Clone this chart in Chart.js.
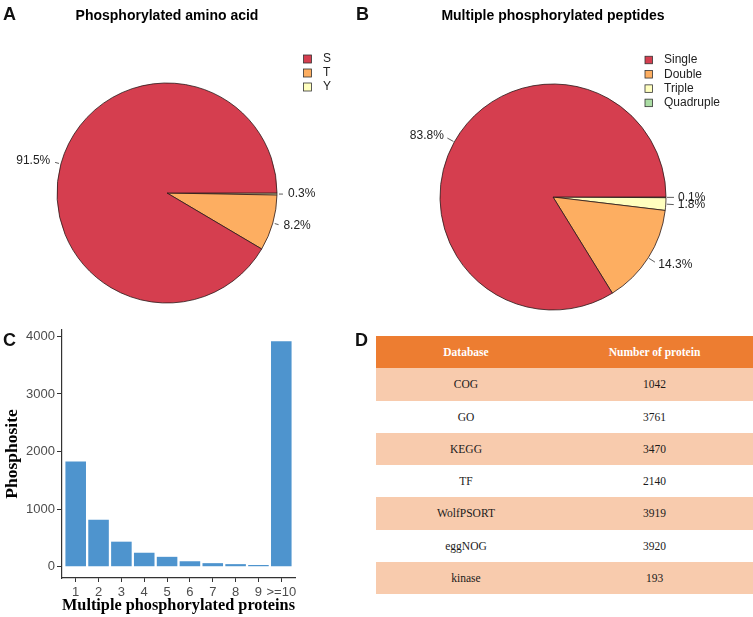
<!DOCTYPE html>
<html><head><meta charset="utf-8">
<script src="https://cdn.jsdelivr.net/npm/chart.js@4.4.1/dist/chart.umd.min.js"></script>
<style>
html,body{margin:0;padding:0;background:#fff;}
#wrap{position:relative;width:753px;height:617px;overflow:hidden;background:#fff;}
.box{position:absolute;}
.tag{position:absolute;font:bold 18px "Liberation Sans",Arial,sans-serif;line-height:18px;color:#111;}
#tbl{position:absolute;left:376px;top:336px;width:377px;border-collapse:collapse;table-layout:fixed;font-family:"Liberation Serif","Times New Roman",serif;font-size:11.5px;color:#1a1a1a;}
#tbl td,#tbl th{height:32.25px;padding:0;text-align:center;vertical-align:middle;}
#tbl td{font-weight:normal;}
#tbl th{font-weight:bold;}
#tbl tr.hd{background:#ED7D31;color:#fff;}
#tbl tr.odd{background:#F8CBAD;}
#tbl tr.even{background:#fff;}
</style></head>
<body>
<div id="wrap">
  <div class="box" style="left:0;top:0;width:376px;height:320px;"><canvas id="cA" width="376" height="320"></canvas></div>
  <div class="box" style="left:376px;top:0;width:377px;height:320px;"><canvas id="cB" width="377" height="320"></canvas></div>
  <div class="box" style="left:0;top:320px;width:376px;height:297px;"><canvas id="cC" width="376" height="297"></canvas></div>
  <table id="tbl"></table>
  <div class="tag" style="left:3px;top:5px;">A</div>
  <div class="tag" style="left:356px;top:5px;">B</div>
  <div class="tag" style="left:3px;top:331px;">C</div>
  <div class="tag" style="left:355px;top:331px;">D</div>
</div>
<script>
// ---- data ----
const aminoLabels = ['S', 'T', 'Y'];
const aminoPercent = [91.5, 8.2, 0.3];
const peptideLabels = ['Single', 'Double', 'Triple', 'Quadruple'];
const peptidePercent = [83.8, 14.3, 1.8, 0.1];
const proteinCategories = ['1', '2', '3', '4', '5', '6', '7', '8', '9', '>=10'];
const phosphositeCounts = [1826, 817, 435, 243, 172, 95, 62, 45, 30, 3915];
const yTicks = [0, 1000, 2000, 3000, 4000];
const tableHeader = ['Database', 'Number of protein'];
const databases = ['COG', 'GO', 'KEGG', 'TF', 'WolfPSORT', 'eggNOG', 'kinase'];
const proteinCounts = [1042, 3761, 3470, 2140, 3919, 3920, 193];

// ---- styles ----
const palette = ['#D53E4F', '#FDAE61', '#FFFFBF', '#ABDDA4'];
const SANS = '"Liberation Sans", Arial, Helvetica, sans-serif';
const SERIF = '"Liberation Serif", "Times New Roman", serif';

const pieLabelPlugin = {
  id: 'pieLabels',
  afterDatasetsDraw(chart, args, o) {
    const ctx = chart.ctx;
    const meta = chart.getDatasetMeta(0);
    const vals = chart.data.datasets[0].data;
    ctx.save();
    ctx.font = '12px ' + SANS;
    ctx.fillStyle = '#222';
    ctx.strokeStyle = '#333';
    ctx.lineWidth = 0.8;
    meta.data.forEach((arc, i) => {
      const p = arc.getProps(['x', 'y', 'startAngle', 'endAngle', 'outerRadius'], true);
      const a = (p.startAngle + p.endAngle) / 2;
      const c = Math.cos(a), s = Math.sin(a);
      const r = p.outerRadius;
      ctx.beginPath();
      ctx.moveTo(p.x + c * (r + o.t0), p.y + s * (r + o.t0));
      ctx.lineTo(p.x + c * (r + o.t1), p.y + s * (r + o.t1));
      ctx.stroke();
      ctx.textAlign = c > 0.2 ? 'left' : (c < -0.2 ? 'right' : 'center');
      ctx.textBaseline = 'middle';
      ctx.fillText(vals[i].toFixed(1) + '%', p.x + c * (r + o.gap), p.y + s * (r + o.gap));
    });
    ctx.restore();
  }
};

const pieLegendPlugin = {
  id: 'pieLegend',
  afterDraw(chart, args, o) {
    const ctx = chart.ctx;
    ctx.save();
    ctx.font = '12px ' + SANS;
    ctx.textBaseline = 'middle';
    ctx.textAlign = 'left';
    o.labels.forEach((lab, i) => {
      const cy = o.y + i * o.step;
      ctx.fillStyle = palette[i];
      ctx.fillRect(o.x, cy - o.box / 2, o.box, o.box);
      ctx.strokeStyle = '#333';
      ctx.lineWidth = 0.8;
      ctx.strokeRect(o.x, cy - o.box / 2, o.box, o.box);
      ctx.fillStyle = '#222';
      ctx.fillText(lab, o.textX, cy);
    });
    ctx.restore();
  }
};

function pieChart(id, labels, values, cfg) {
  const order = labels.map((_, i) => i).reverse();
  return new Chart(document.getElementById(id), {
    type: 'pie',
    data: {
      labels: order.map(i => labels[i]),
      datasets: [{
        data: order.map(i => values[i]),
        backgroundColor: order.map(i => palette[i]),
        borderColor: '#2b1b1b',
        borderWidth: 0.8,
        hoverOffset: 0
      }]
    },
    options: {
      responsive: false, animation: false, devicePixelRatio: 1, events: [],
      rotation: 90,
      radius: cfg.radius,
      layout: { padding: cfg.padding },
      plugins: {
        legend: { display: false },
        tooltip: { enabled: false },
        title: {
          display: true, text: cfg.title, fullSize: false, color: '#000',
          font: { family: SANS, size: 14, weight: 'bold' },
          padding: { top: 8, bottom: cfg.titleGap }
        },
        pieLabels: cfg.labelOpts,
        pieLegend: Object.assign({ labels: labels }, cfg.legend)
      }
    },
    plugins: [pieLabelPlugin, pieLegendPlugin]
  });
}

pieChart('cA', aminoLabels, aminoPercent, {
  title: 'Phosphorylated amino acid',
  radius: 110,
  padding: { left: 57, right: 99, top: 0, bottom: 17 },
  titleGap: 58.2,
  labelOpts: { t0: 2, t1: 6, gap: 11 },
  legend: { x: 303.5, y: 59, step: 14, box: 8, textX: 323 }
});

pieChart('cB', peptideLabels, peptidePercent, {
  title: 'Multiple phosphorylated peptides',
  radius: 113,
  padding: { left: 64, right: 87, top: 0, bottom: 10 },
  titleGap: 59.2,
  labelOpts: { t0: 1, t1: 8, gap: 12 },
  legend: { x: 269, y: 60, step: 14.3, box: 7.5, textX: 288 }
});

const maxCount = Math.max(...phosphositeCounts);
new Chart(document.getElementById('cC'), {
  type: 'bar',
  data: {
    datasets: [{
      data: phosphositeCounts.map((v, i) => ({ x: i + 1, y: v })),
      backgroundColor: '#4E94CE',
      borderWidth: 0,
      barPercentage: 0.9,
      categoryPercentage: 1
    }]
  },
  options: {
    responsive: false, animation: false, devicePixelRatio: 1, events: [],
    layout: { padding: { left: 0, right: 81, top: 10, bottom: 0 } },
    plugins: { legend: { display: false }, tooltip: { enabled: false } },
    scales: {
      x: {
        type: 'linear', bounds: 'data', offset: false,
        min: 0.4, max: proteinCategories.length + 0.6,
        afterBuildTicks: s => { s.ticks = proteinCategories.map((_, i) => ({ value: i + 1 })); },
        afterFit: s => { s.height = 39; },
        ticks: {
          autoSkip: false, maxRotation: 0, minRotation: 0, padding: 3,
          color: '#4D4D4D', font: { family: SANS, size: 13 },
          callback: v => proteinCategories[v - 1]
        },
        grid: { display: true, offset: false, drawOnChartArea: false, drawTicks: true, tickLength: 4, tickColor: '#333', tickWidth: 1 },
        border: { display: true, color: '#333', width: 1.2 },
        title: {
          display: true, text: 'Multiple phosphorylated proteins', color: '#000',
          font: { family: SERIF, size: 17.5, weight: 'bold' },
          padding: { top: 0, bottom: 1 }
        }
      },
      y: {
        bounds: 'data',
        min: -0.05 * maxCount, max: 1.05 * maxCount,
        afterBuildTicks: s => { s.ticks = yTicks.map(v => ({ value: v })); },
        afterFit: s => { s.width = 62; },
        ticks: { padding: 2, color: '#4D4D4D', font: { family: SANS, size: 13 }, callback: v => String(v) },
        grid: { display: true, drawOnChartArea: false, drawTicks: true, tickLength: 5, tickColor: '#333', tickWidth: 1 },
        border: { display: true, color: '#333', width: 1.2 },
        title: {
          display: true, text: 'Phosphosite', color: '#000',
          font: { family: SERIF, size: 17.5, weight: 'bold' },
          padding: { top: 2, bottom: 0 }
        }
      }
    }
  }
});

// ---- table D ----
const tbl = document.getElementById('tbl');
let html = '<colgroup><col style="width:180px"><col style="width:197px"></colgroup>';
html += '<tr class="hd"><th>' + tableHeader[0] + '</th><th>' + tableHeader[1] + '</th></tr>';
databases.forEach((d, i) => {
  html += '<tr class="' + (i % 2 === 0 ? 'odd' : 'even') + '"><td>' + d + '</td><td>' + proteinCounts[i] + '</td></tr>';
});
tbl.innerHTML = html;
</script>
</body></html>
